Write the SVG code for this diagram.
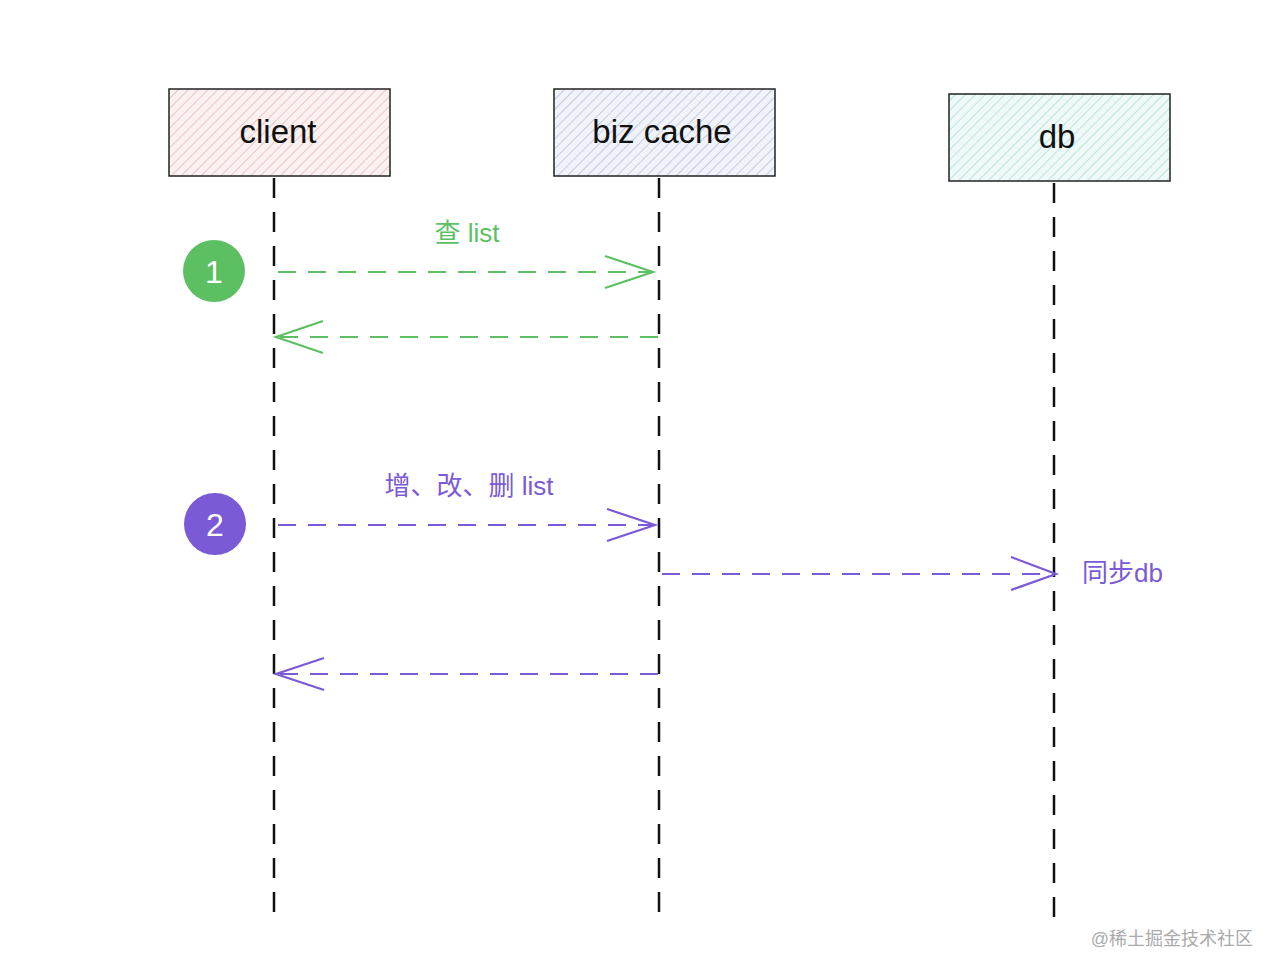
<svg xmlns="http://www.w3.org/2000/svg" width="1280" height="975" viewBox="0 0 1280 975">
<defs>
<pattern id="hr" width="7" height="7" patternUnits="userSpaceOnUse" patternTransform="rotate(45)"><rect width="7" height="7" fill="#fbf1f1"/><line x1="0" y1="0" x2="0" y2="7" stroke="#d99a9a" stroke-width="1"/></pattern>
<pattern id="hb" width="7" height="7" patternUnits="userSpaceOnUse" patternTransform="rotate(45)"><rect width="7" height="7" fill="#f1f3fa"/><line x1="0" y1="0" x2="0" y2="7" stroke="#9aa3c8" stroke-width="1"/></pattern>
<pattern id="hc" width="7" height="7" patternUnits="userSpaceOnUse" patternTransform="rotate(45)"><rect width="7" height="7" fill="#eef9f8"/><line x1="0" y1="0" x2="0" y2="7" stroke="#8ccfc8" stroke-width="1"/></pattern>
</defs>
<style>
.box{stroke:#222;stroke-width:1.5}
.lbl{font-family:"Liberation Sans","Noto Sans CJK SC",sans-serif}
.life{stroke:#111;stroke-width:2.5;stroke-dasharray:20 14;fill:none}
.g{stroke:#5cc063;stroke-width:2.2;stroke-dasharray:18 12;fill:none}
.p{stroke:#7a5ad6;stroke-width:2.2;stroke-dasharray:18 12;fill:none}
.gh{stroke:#5cc063;stroke-width:2.2;fill:none}
.ph{stroke:#7a5ad6;stroke-width:2.2;fill:none}
</style>
<rect width="1280" height="975" fill="#fff"/>
<g id="client"><rect class="box" x="169" y="89" width="221" height="87" fill="url(#hr)"/><text class="lbl" x="278" y="143" font-size="33" text-anchor="middle" fill="#111">client</text></g>
<g id="bizcache"><rect class="box" x="554" y="89" width="221" height="87" fill="url(#hb)"/><text class="lbl" x="662" y="143" font-size="33" text-anchor="middle" fill="#111">biz cache</text></g>
<g id="db"><rect class="box" x="949" y="94" width="221" height="87" fill="url(#hc)"/><text class="lbl" x="1057" y="148" font-size="33" text-anchor="middle" fill="#111">db</text></g>
<g id="step1"><circle cx="214" cy="271" r="31" fill="#5cc063"/><text class="lbl" x="214" y="283" font-size="32" text-anchor="middle" fill="#fff">1</text></g>
<g id="step2"><circle cx="215" cy="524" r="31" fill="#7a5ad6"/><text class="lbl" x="215" y="536" font-size="32" text-anchor="middle" fill="#fff">2</text></g>
<g id="connectors">
<line class="life" x1="274" y1="178" x2="274" y2="912"/>
<line class="life" x1="659" y1="178" x2="659" y2="912"/>
<line class="life" x1="1054" y1="183" x2="1054" y2="920"/>
<line class="g" x1="278" y1="272" x2="652" y2="272"/>
<polyline class="gh" points="605,256 653,272 605,288"/>
<line class="g" x1="658" y1="337" x2="280" y2="337"/>
<polyline class="gh" points="323,321 276,337 323,353"/>
<line class="p" x1="278" y1="525" x2="652" y2="525"/>
<polyline class="ph" points="607,509 655,525 607,541"/>
<line class="p" x1="662" y1="574" x2="1050" y2="574"/>
<polyline class="ph" points="1011,557 1056,574 1011,590"/>
<line class="p" x1="658" y1="674" x2="280" y2="674"/>
<polyline class="ph" points="324,658 276,674 324,690"/>
</g>
<text class="lbl" x="467" y="242" font-size="26" text-anchor="middle" fill="#5cc063">查 list</text>
<text class="lbl" x="469" y="495" font-size="26" text-anchor="middle" fill="#7a5ad6">增、改、删 list</text>
<text class="lbl" x="1082" y="582" font-size="26" fill="#7a5ad6">同步db</text>
<text class="lbl" x="1253" y="945" font-size="18" text-anchor="end" fill="#aaa">@稀土掘金技术社区</text>
</svg>
